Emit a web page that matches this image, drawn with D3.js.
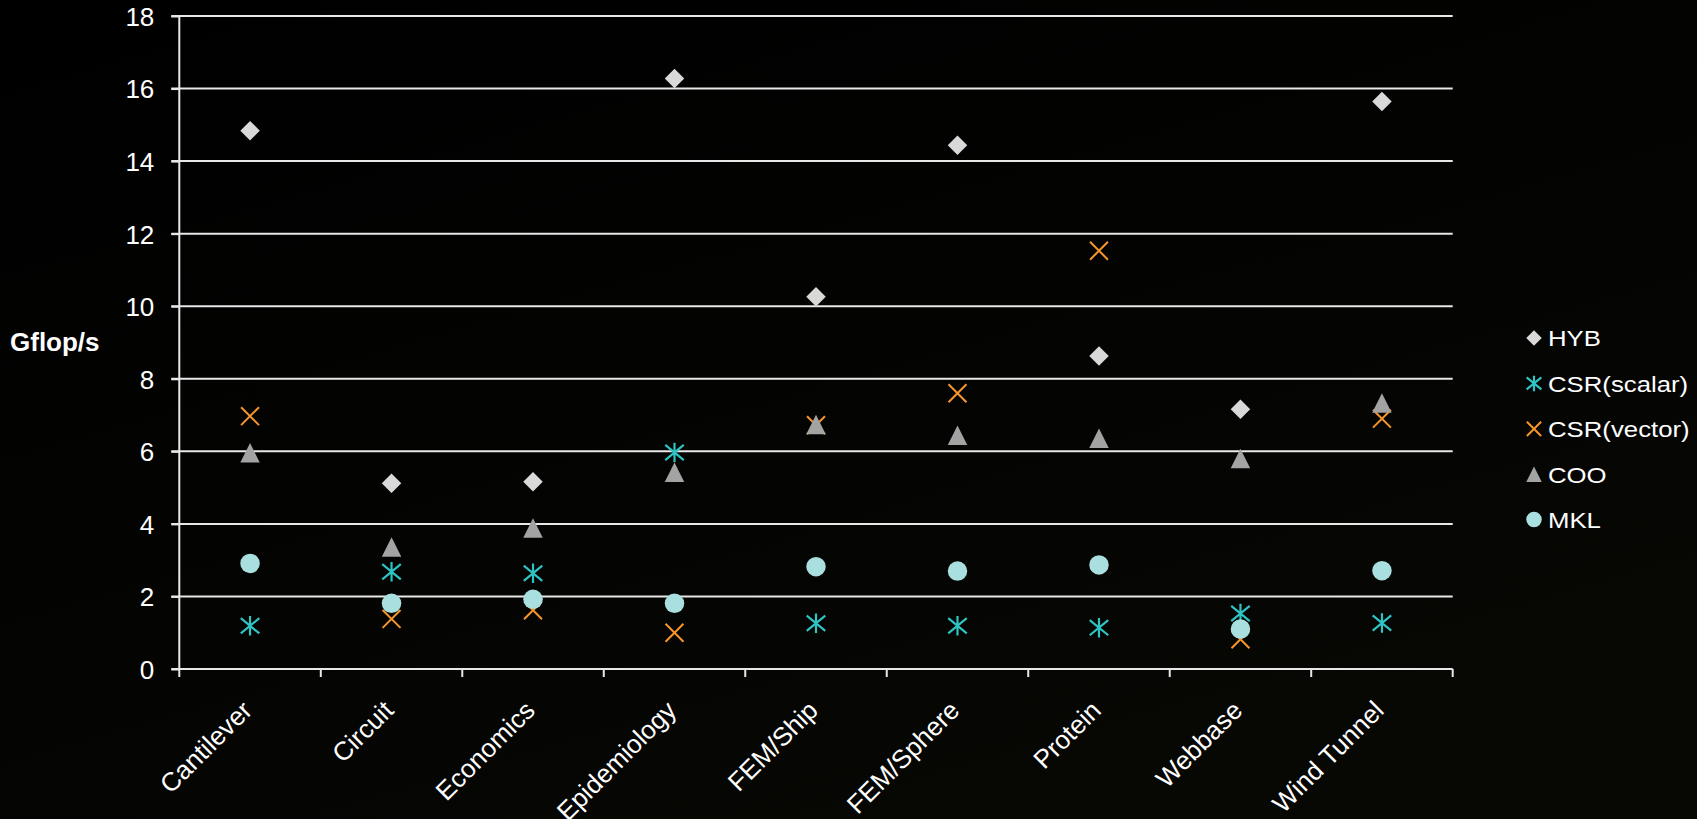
<!DOCTYPE html>
<html>
<head>
<meta charset="utf-8">
<script src="https://cdn.jsdelivr.net/npm/d3@7"></script>
<style>
  html, body { margin: 0; padding: 0; background: #000; }
  svg { display: block; }
  text { font-family: "Liberation Sans", Arial, sans-serif; fill: #ffffff; }
</style>
</head>
<body>
<svg id="chart" width="1697" height="819"></svg>
<script>
// Matrices benchmarked
const categories = ["Cantilever", "Circuit", "Economics", "Epidemiology", "FEM/Ship",
                    "FEM/Sphere", "Protein", "Webbase", "Wind Tunnel"];

// Gflop/s per SpMV kernel
const hyb       = [14.84, 5.12, 5.16, 16.28, 10.26, 14.44, 8.63, 7.16, 15.64];
const csrScalar = [1.19, 2.68, 2.64, 5.97, 1.26, 1.19, 1.14, 1.53, 1.27];
const csrVector = [6.97, 1.38, 1.62, 1.00, 6.72, 7.60, 11.53, 0.82, 6.90];
const coo       = [5.96, 3.36, 3.89, 5.42, 6.74, 6.44, 6.36, 5.80, 7.33];
const mkl       = [2.91, 1.81, 1.92, 1.81, 2.82, 2.70, 2.87, 1.10, 2.71];

const yTicks = [0, 2, 4, 6, 8, 10, 12, 14, 16, 18];

const series = [
  { name: "HYB",         values: hyb,       shape: "diamond",  color: "#d9d9d9" },
  { name: "CSR(scalar)", values: csrScalar, shape: "asterisk", color: "#2ec4c4" },
  { name: "CSR(vector)", values: csrVector, shape: "cross",    color: "#f7962a" },
  { name: "COO",         values: coo,       shape: "triangle", color: "#a3a3a3" },
  { name: "MKL",         values: mkl,       shape: "circle",   color: "#aadfdf" }
];

const svg = d3.select("#chart");
const W = 1697, H = 819;

// ---- backdrop: near-black slide, faintly warmer toward the bottom ----
const defs = svg.append("defs");
const bg = defs.append("linearGradient").attr("id", "bgGrad")
  .attr("x1", "0").attr("y1", "0").attr("x2", "0.6").attr("y2", "1");
bg.append("stop").attr("offset", "0").attr("stop-color", "#000000");
bg.append("stop").attr("offset", "0.5").attr("stop-color", "#030302");
bg.append("stop").attr("offset", "1").attr("stop-color", "#070704");
svg.append("rect").attr("width", W).attr("height", H).attr("fill", "url(#bgGrad)");

// ---- scales ----
const x0 = 179.3, x1 = 1452.7, yTop = 16, yBottom = 669;
const x = d3.scaleBand().domain(categories).range([x0, x1]).padding(0);
const y = d3.scaleLinear().domain([0, 18]).range([yBottom, yTop]);
const cx = c => x(c) + x.bandwidth() / 2;

const lineColor = "#e8e8e8";

// horizontal gridlines (they also carry the outward y tick)
svg.append("g").selectAll("line").data(yTicks).join("line")
  .attr("x1", x0 - 8).attr("x2", x1)
  .attr("y1", d => y(d)).attr("y2", d => y(d))
  .attr("stroke", lineColor).attr("stroke-width", 2);

// y axis with labels
const yAxis = svg.append("g").attr("transform", `translate(${x0},0)`)
  .call(d3.axisLeft(y).tickValues(yTicks).tickSize(8).tickPadding(17).tickFormat(d3.format("d")));
yAxis.select(".domain").attr("stroke", lineColor).attr("stroke-width", 2)
  .attr("d", `M0,${yTop}V${yBottom}`);
yAxis.selectAll(".tick line").attr("stroke", lineColor).attr("stroke-width", 2);
yAxis.selectAll(".tick text")
  .attr("fill", "#ffffff").attr("font-size", 26)
  .attr("font-family", "Liberation Sans, Arial, sans-serif")
  .attr("dy", "0.36em");

// x axis: ticks on category boundaries
const bounds = categories.map(c => x(c)).concat([x1]);
svg.append("g").selectAll("line").data(bounds).join("line")
  .attr("x1", d => d).attr("x2", d => d)
  .attr("y1", yBottom).attr("y2", yBottom + 8)
  .attr("stroke", lineColor).attr("stroke-width", 2);

// category labels rotated -45°
svg.append("g").selectAll("text").data(categories).join("text")
  .attr("transform", d => `translate(${cx(d) + 3.5},712) rotate(-45)`)
  .attr("text-anchor", "end")
  .attr("font-size", 26)
  .text(d => d);

// y axis title
svg.append("text")
  .attr("x", 10).attr("y", 351)
  .attr("font-size", 26).attr("font-weight", "bold")
  .text("Gflop/s");

// ---- marker shapes ----
function drawMarker(g, shape, color, s) {
  const h = s / 2;
  if (shape === "diamond") {
    g.append("path").attr("d", `M0,${-h}L${h},0L0,${h}L${-h},0Z`).attr("fill", color);
  } else if (shape === "circle") {
    g.append("circle").attr("r", h).attr("fill", color);
  } else if (shape === "triangle") {
    g.append("path").attr("d", `M0,${-h}L${h},${h}L${-h},${h}Z`).attr("fill", color);
  } else if (shape === "cross") {
    const a = h * 0.92;
    g.append("path").attr("d", `M${-a},${-a}L${a},${a}M${a},${-a}L${-a},${a}`)
      .attr("stroke", color).attr("stroke-width", 2).attr("fill", "none");
  } else if (shape === "asterisk") {
    const a = h * 0.95, b = h * 0.78;
    g.append("path").attr("d", `M0,${-h}V${h}M${-a},${-b}L${a},${b}M${a},${-b}L${-a},${b}`)
      .attr("stroke", color).attr("stroke-width", 2.2).attr("fill", "none");
  }
}

// ---- data points, one layer per series in legend order ----
series.forEach(s => {
  const layer = svg.append("g");
  layer.selectAll("g").data(categories.map((c, i) => ({ c, v: s.values[i] })))
    .join("g")
    .attr("transform", d => `translate(${cx(d.c)},${y(d.v)})`)
    .each(function () { drawMarker(d3.select(this), s.shape, s.color, 19.5); });
});

// ---- legend ----
const legend = svg.append("g");
const legendTop = 338, legendStep = 45.4;
series.forEach((s, i) => {
  const ly = legendTop + i * legendStep;
  const m = legend.append("g").attr("transform", `translate(1534,${ly})`);
  drawMarker(m, s.shape, s.color, 15.5);
  legend.append("text")
    .attr("transform", `translate(1548,${ly + 8.3}) scale(1.12,1)`)
    .attr("font-size", 23)
    .text(s.name);
});
</script>
</body>
</html>
